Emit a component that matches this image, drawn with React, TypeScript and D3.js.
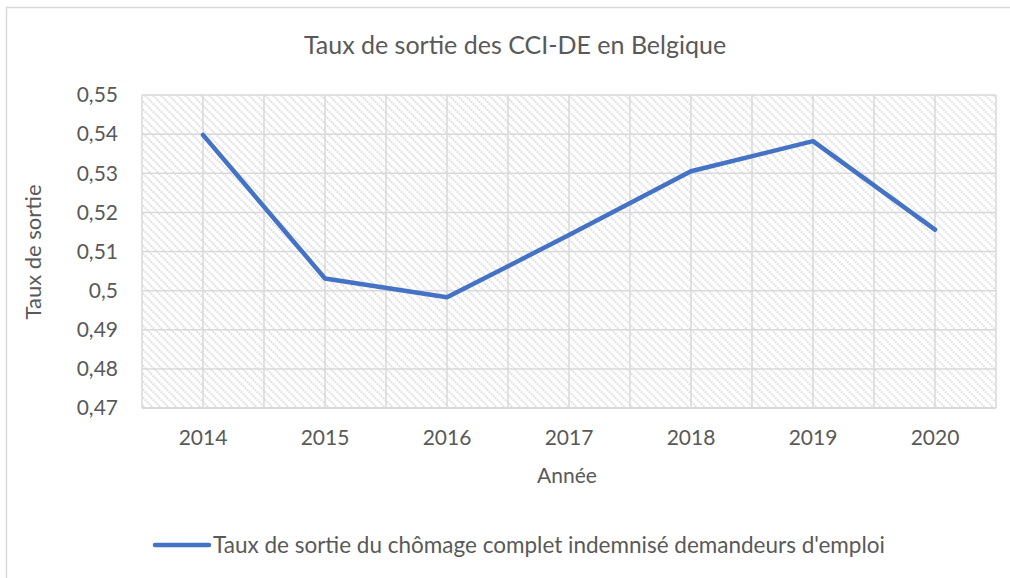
import React from "react";
import * as d3 from "d3";

const years: string[] = ["2014", "2015", "2016", "2017", "2018", "2019", "2020"];
const rates: number[] = [0.5398, 0.5031, 0.4983, 0.5142, 0.5305, 0.5382, 0.5156];
const yTicks: number[] = [0.47, 0.48, 0.49, 0.5, 0.51, 0.52, 0.53, 0.54, 0.55];
const title = "Taux de sortie des CCI-DE en Belgique";
const xTitle = "Année";
const yTitle = "Taux de sortie";
const seriesName = "Taux de sortie du chômage complet indemnisé demandeurs d'emploi";

const W = 1010;
const H = 578;
const FONT = "Lato, 'Open Sans', sans-serif";
const TEXT = "#595959";
const GRID = "#d9d9d9";
const LINE = "#4472c4";

export default function App() {
  const left = 142, right = 996, top = 95, bottom = 408;
  const x = d3.scaleBand<string>().domain(years).range([left, right]).padding(0);
  const y = d3.scaleLinear().domain([0.47, 0.55]).range([bottom, top]);
  const fmt = (v: number) => d3.format(".2~f")(v).replace(".", ",");
  const line = d3
    .line<number>()
    .x((_, i) => (x(years[i]) as number) + x.bandwidth() / 2)
    .y((d) => y(d));

  const vLines: number[] = [];
  years.forEach((yr) => {
    const bx = x(yr) as number;
    vLines.push(bx, bx + x.bandwidth() / 2);
  });
  vLines.push(right);

  return (
    <svg
      width={W}
      height={H}
      style={{ position: "absolute", left: 0, top: 0, background: "#fff" }}
      fontFamily={FONT}
    >
      <defs>
        <pattern
          id="hatch"
          width="5.66"
          height="5.66"
          patternUnits="userSpaceOnUse"
          patternTransform="rotate(-45)"
        >
          <line x1="1" y1="0" x2="1" y2="5.66" stroke="#dcdcdc" strokeWidth="2" strokeDasharray="1.6 1.2" />
        </pattern>
      </defs>
      <rect x={6.5} y={7.5} width={W + 10} height={H + 10} fill="#fff" stroke={GRID} strokeWidth={1.5} />
      <text x={515} y={54} textAnchor="middle" fontSize={25} fill={TEXT}>
        {title}
      </text>
      <rect x={left} y={top} width={right - left} height={bottom - top} fill="url(#hatch)" />
      {yTicks.map((t) => (
        <line key={"h" + t} x1={left} x2={right} y1={y(t)} y2={y(t)} stroke={GRID} strokeWidth={1.5} />
      ))}
      {vLines.map((v, i) => (
        <line key={"v" + i} x1={v} x2={v} y1={top} y2={bottom} stroke={GRID} strokeWidth={1.5} />
      ))}
      <line x1={left} x2={right} y1={bottom} y2={bottom} stroke={GRID} strokeWidth={2} />
      {yTicks.map((t) => (
        <text key={"yt" + t} x={118} y={y(t)} dy="0.35em" textAnchor="end" fontSize={21} fill={TEXT}>
          {fmt(t)}
        </text>
      ))}
      {years.map((yr) => (
        <text
          key={"xt" + yr}
          x={(x(yr) as number) + x.bandwidth() / 2}
          y={438}
          dy="0.35em"
          textAnchor="middle"
          fontSize={21}
          fill={TEXT}
        >
          {yr}
        </text>
      ))}
      <text x={567} y={476} dy="0.35em" textAnchor="middle" fontSize={21} fill={TEXT}>
        {xTitle}
      </text>
      <text
        transform={`translate(33,252) rotate(-90)`}
        dy="0.35em"
        textAnchor="middle"
        fontSize={22}
        fill={TEXT}
      >
        {yTitle}
      </text>
      <path d={line(rates) || ""} fill="none" stroke={LINE} strokeWidth={4.5} strokeLinejoin="round" strokeLinecap="round" />
      <line x1={155} x2={209} y1={545} y2={545} stroke={LINE} strokeWidth={4.5} strokeLinecap="round" />
      <text x={213} y={545} dy="0.35em" fontSize={22.5} fill={TEXT}>
        {seriesName}
      </text>
    </svg>
  );
}
